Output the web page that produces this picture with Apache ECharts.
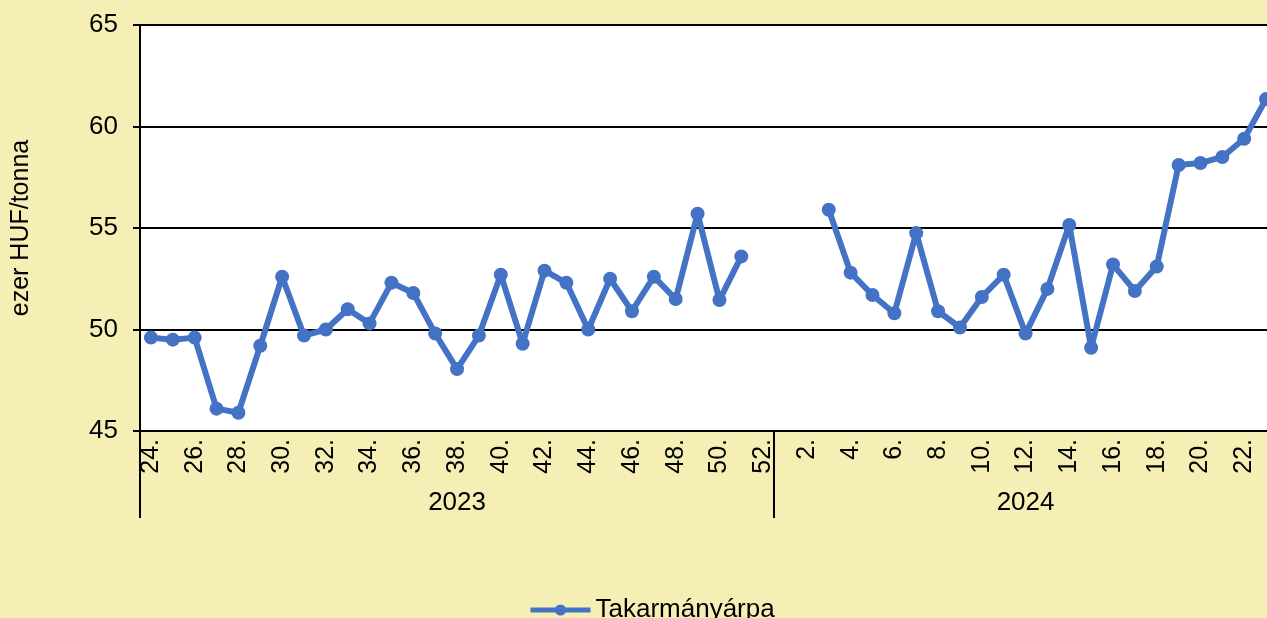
<!DOCTYPE html>
<html>
<head>
<meta charset="utf-8">
<script src="https://cdn.jsdelivr.net/npm/echarts@6/dist/echarts.min.js"></script>
<style>
  html,body{margin:0;padding:0;background:#F6EFB5;}
  #chart{width:1267px;height:618px;}
</style>
</head>
<body>
<div id="chart"></div>
<script>
// heti adatok: 2023. 24. hét - 2024. 23. hét
const weeks = [24,25,26,27,28,29,30,31,32,33,34,35,36,37,38,39,40,41,42,43,44,45,46,47,48,49,50,51,52,
               1,2,3,4,5,6,7,8,9,10,11,12,13,14,15,16,17,18,19,20,21,22,23];
const years = [2023,2023,2023,2023,2023,2023,2023,2023,2023,2023,2023,2023,2023,2023,2023,2023,2023,2023,2023,2023,2023,2023,2023,2023,2023,2023,2023,2023,2023,
               2024,2024,2024,2024,2024,2024,2024,2024,2024,2024,2024,2024,2024,2024,2024,2024,2024,2024,2024,2024,2024,2024,2024];
const arpa = [49.6,49.5,49.6,46.1,45.9,49.2,52.6,49.7,50.0,51.0,50.3,52.3,51.8,49.8,48.05,49.7,52.7,49.3,52.9,52.3,50.0,52.5,50.9,52.6,51.5,55.7,51.45,53.6,null,
              null,null,55.9,52.8,51.7,50.8,54.75,50.9,50.1,51.6,52.7,49.8,52.0,55.15,49.1,53.2,51.9,53.1,58.1,58.2,58.5,59.4,61.35];
const yTicks = {min:45,max:65,step:5};

const font = "'Liberation Sans', Arial, sans-serif";
const weekLabels = weeks.map(w=>w+".");

// az évek első indexe és középső indexe
const yearStart = [], yearMid = [];
years.forEach((y,i)=>{ if(i===0 || years[i-1]!==y) yearStart.push(i); });
yearStart.forEach((s,k)=>{
	const e = k+1<yearStart.length ? yearStart[k+1] : years.length;
	yearMid.push(Math.floor((s+e-1)/2));
});

const myChart = echarts.init(document.getElementById("chart"));

const option = {
	backgroundColor:"#F6EFB5",
	animation:false,
	textStyle:{fontFamily:font,color:"#000"},
	grid:{left:140,top:25,width:1137,height:406,outerBoundsMode:"none",containLabel:false,
		show:true,backgroundColor:"#fff",borderWidth:0},
	legend:{
		top:592,left:523,
		itemWidth:60,itemHeight:14,itemGap:4,
		lineStyle:{width:5},
		textStyle:{fontFamily:font,fontSize:26,color:"#000"},
		data:["Takarmányárpa"]
	},
	xAxis:[{
		type:"category",
		data:weekLabels,
		boundaryGap:true,
		axisLine:{lineStyle:{color:"#000",width:2}},
		axisTick:{show:true,length:87,lineStyle:{color:"#000",width:2},
			interval:(i)=>yearStart.indexOf(i)>=0},
		axisLabel:{interval:1,rotate:90,margin:8,fontSize:25,color:"#000",fontFamily:font}
	},{
		type:"category",
		data:weekLabels,
		position:"bottom",
		axisLine:{show:false},
		axisTick:{show:false},
		axisLabel:{interval:0,margin:59,fontSize:26,color:"#000",fontFamily:font,
			formatter:(v,i)=>yearMid.indexOf(i)>=0 ? String(years[i]) : ""}
	}],
	yAxis:{
		type:"value",
		min:yTicks.min,max:yTicks.max,interval:yTicks.step,
		name:"ezer HUF/tonna",
		nameLocation:"middle",
		nameGap:106,
		nameTextStyle:{fontSize:25,color:"#000",fontFamily:font},
		axisLine:{show:true,lineStyle:{color:"#000",width:2}},
		axisTick:{show:true,inside:false,length:7,lineStyle:{color:"#000",width:2}},
		axisLabel:{fontSize:26,color:"#000",margin:22,fontFamily:font},
		splitLine:{lineStyle:{color:"#000",width:2}}
	},
	series:[{
		name:"Takarmányárpa",
		type:"line",
		data:arpa,
		connectNulls:false,
		symbol:"circle",
		symbolSize:14,
		itemStyle:{color:"#4472C4"},
		lineStyle:{color:"#4472C4",width:6}
	}]
};

myChart.setOption(option);
</script>
</body>
</html>
